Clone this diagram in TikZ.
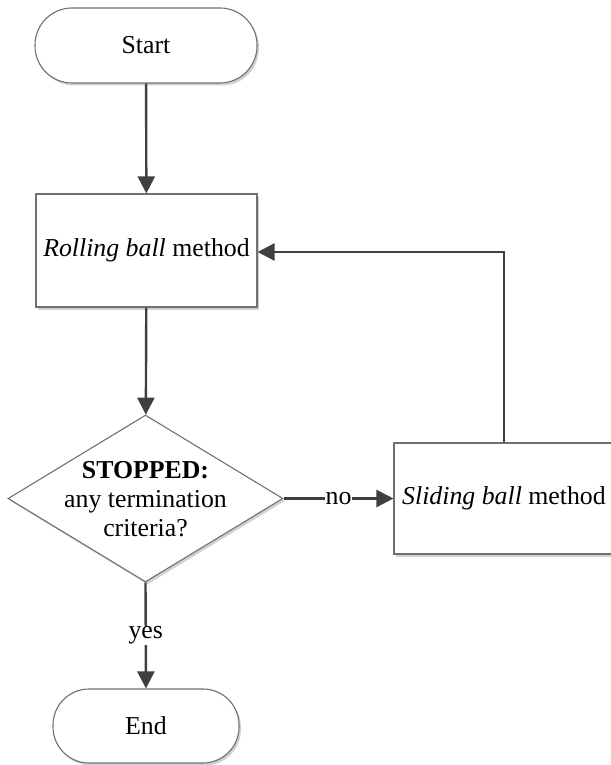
\documentclass[tikz,border=0pt]{standalone}
\usepackage{fontspec}
\setmainfont{Liberation Serif}
\usetikzlibrary{shapes.geometric,arrows.meta,shadows}
\definecolor{conn}{HTML}{404040}
\definecolor{bord}{HTML}{707070}
\tikzset{
  base/.style={draw=bord, line width=1.1pt, fill=white, inner sep=0pt,
    drop shadow={shadow xshift=2pt, shadow yshift=-2.5pt, opacity=0.18, fill=black}},
  term/.style={base, rectangle, rounded corners=37pt},
  procbox/.style={base, rectangle},
  decision/.style={base, diamond},
  conn/.style={draw=conn, line width=2.4pt, -{Triangle[length=17pt,width=17pt]}},
  lab/.style={fill=white, inner sep=1pt},
}
\begin{document}
\begin{tikzpicture}[x=1pt,y=-1pt,font=\fontsize{25.8}{29}\selectfont]
\useasboundingbox (0,0) rectangle (610,765);
\node[term, minimum width=222pt, minimum height=75pt] (start) at (146,45.5) {Start};
\node[procbox, minimum width=221pt, minimum height=113pt] (roll) at (146.5,250.5) {\textit{Rolling ball} method};
\node[decision, minimum width=275pt, minimum height=167pt] (dec) at (145.5,498.5) {};
\node[align=center, inner sep=0pt] (dtext) at (145.5,499) {\textbf{STOPPED:}\\any termination\\criteria?};
\node[procbox, minimum width=220pt, minimum height=111pt] (slide) at (504,498.5) {\textit{Sliding ball} method};
\node[term, rounded corners=36pt, minimum width=186pt, minimum height=74pt] (end) at (146,726) {End};
\coordinate (corner) at (slide.north |- 0,252);
\draw[conn] (start) -- (roll);
\draw[conn] (roll) -- (dec);
\draw[conn] (dec.south) -- node[lab, pos=0.5] (yes) {yes} (end.north);
\draw[conn] (dec.east) -- node[lab, pos=0.5] (no) {no} (slide.west);
\draw[conn] (slide.north) -- (corner) -- (roll.east |- corner);
\end{tikzpicture}
\end{document}
